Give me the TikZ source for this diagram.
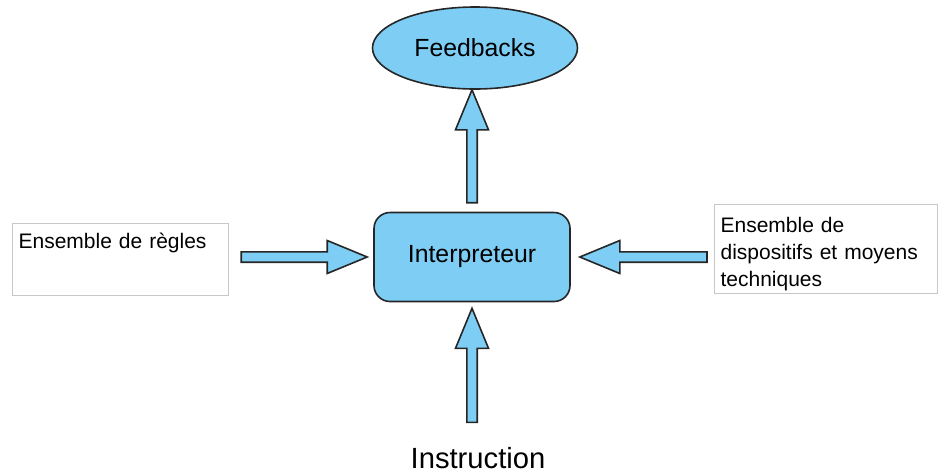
\documentclass[tikz,border=0pt]{standalone}
\usepackage{fontspec}
\setmainfont{Liberation Sans}
\usetikzlibrary{shapes.geometric,calc}
\definecolor{skyfill}{RGB}{126,205,244}
\definecolor{boxline}{RGB}{200,200,200}
% block arrow from #1 to the tip #2
\newcommand\blockarrow[2]{%
  \path ($(#2)!20pt!(#1)$) coordinate (h);
  \draw[barrow] ($(#1)!2.6pt!90:(#2)$) -- ($(h)!2.6pt!90:(#2)$) -- ($(h)!8.25pt!90:(#2)$) -- (#2)
    -- ($(h)!8.25pt!-90:(#2)$) -- ($(h)!2.6pt!-90:(#2)$) -- ($(#1)!2.6pt!-90:(#2)$) -- cycle;%
}
\begin{document}
\begin{tikzpicture}[x=0.5pt,y=-0.5pt,
    sky/.style={draw=black!85,fill=skyfill,line width=0.8pt,font=\fontsize{12.4}{15}\selectfont},
    barrow/.style={sky,line join=miter},
    textbox/.style={draw=boxline,line width=0.6pt,anchor=north west,align=left,
      inner xsep=3pt,inner ysep=0pt,font=\fontsize{10.5}{13.5}\selectfont}]
  \useasboundingbox (0,0) rectangle (938,472);
  \node[sky,ellipse,minimum width=102.5pt,minimum height=41pt] (fb) at (475,48) {Feedbacks};
  \node[sky,rounded corners=8pt,minimum width=98pt,minimum height=44.5pt] (interp) at (472,257) {Interpreteur};
  \node[textbox,text width=102pt,text height=12.5pt,text depth=23.5pt] (rules) at (12,223) {Ensemble de règles};
  \node[textbox,text width=105.5pt,text height=14pt,text depth=30.5pt] (tech) at (714,204)
    {Ensemble de\\dispositifs et moyens\\techniques};
  \node[font=\fontsize{14.6}{18}\selectfont,anchor=base,inner sep=0pt] (instr) at (478,468) {Instruction};
  % arrow ends
  \coordinate (upfrom) at ($(interp.north)+(0,-9)$);
  \coordinate (upto) at (interp.north |- fb.south);
  \coordinate (lfrom) at ($(rules.east |- interp.west)+(12,0)$);
  \coordinate (lto) at ($(interp.west)+(-6,0)$);
  \coordinate (rfrom) at ($(tech.west |- interp.east)+(-7,0)$);
  \coordinate (rto) at ($(interp.east)+(9,0)$);
  \coordinate (dfrom) at ($(interp.south |- instr.north)+(0,-24)$);
  \coordinate (dto) at ($(interp.south)+(0,6)$);
  \foreach \a/\b in {upfrom/upto, lfrom/lto, rfrom/rto, dfrom/dto}
    \blockarrow{\a}{\b};
\end{tikzpicture}
\end{document}
